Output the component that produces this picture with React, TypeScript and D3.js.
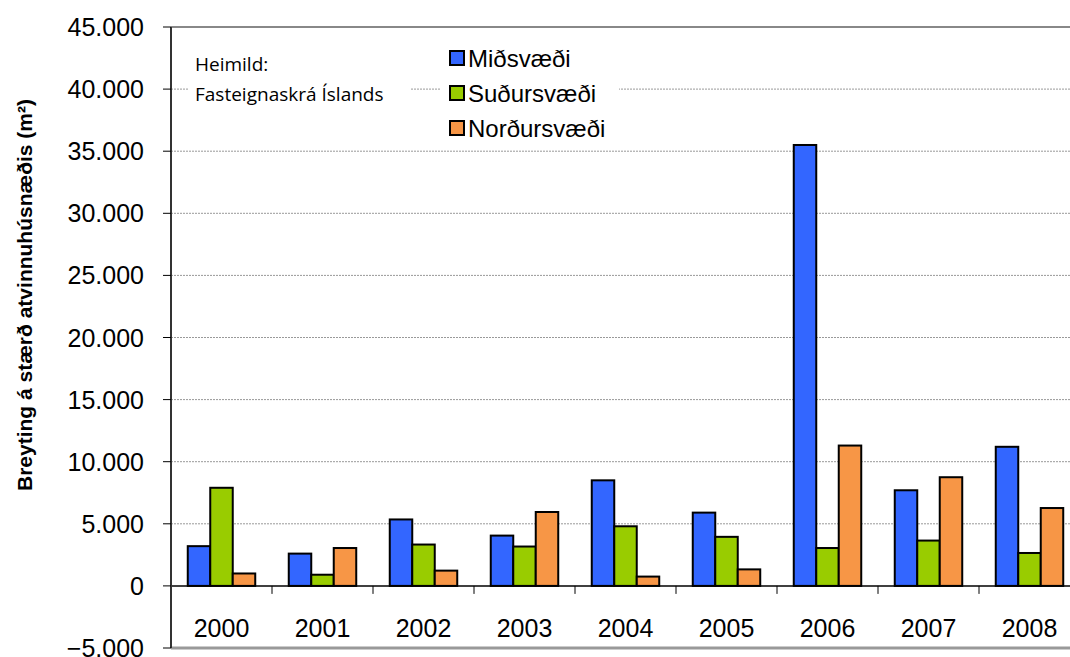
import * as d3 from 'd3';

const years = ['2000', '2001', '2002', '2003', '2004', '2005', '2006', '2007', '2008'];
const seriesNames = ['Miðsvæði', 'Suðursvæði', 'Norðursvæði'];
const midsvaedi = [3200, 2600, 5350, 4050, 8500, 5900, 35500, 7700, 11200];
const sudursvaedi = [7900, 900, 3330, 3170, 4800, 3950, 3050, 3650, 2650];
const nordursvaedi = [1000, 3050, 1230, 5950, 750, 1330, 11300, 8750, 6270];
const yTicks = [-5000, 0, 5000, 10000, 15000, 20000, 25000, 30000, 35000, 40000, 45000];
const colors = ['#3366ff', '#99cc00', '#f79646'];

const W = 1070;
const H = 657;
const left = 171;
const right = 1080;
const top = 27;
const bottom = 648;

const fmt = (v: number) => (v === 0 ? '0' : d3.format(',')(v).replace(/,/g, '.'));

export default function App() {
  const x = d3.scaleBand().domain(years).range([left, right]);
  const x1 = d3.scaleBand().domain(seriesNames).range([0, x.bandwidth()]).paddingInner(0).paddingOuter(0.745);
  const y = d3.scaleLinear().domain([-5000, 45000]).range([bottom, top]);
  const series = [midsvaedi, sudursvaedi, nordursvaedi];
  const font = 'Arial, "Liberation Sans", sans-serif';
  const noteFont = '"Open Sans", sans-serif';

  return (
    <svg width={W} height={H} style={{ position: 'absolute', left: 0, top: 0 }}>
      <rect width={W} height={H} fill="#fff" />
      {/* gridlines */}
      {yTicks.filter((t) => t > 0).map((t) => (
        <line key={t} x1={left} x2={right} y1={y(t)} y2={y(t)} stroke="#999" strokeWidth={1} strokeDasharray="2,1" />
      ))}
      <line x1={left} x2={right} y1={top} y2={top} stroke="#888" strokeWidth={2} />
      <line x1={left} x2={right} y1={bottom} y2={bottom} stroke="#999" strokeWidth={3} />
      {/* source note */}
      <rect x={188} y={42} width={223} height={70} fill="#fff" />
      <text x={195} y={71} fontFamily={noteFont} fontSize={19} fill="#000">Heimild:</text>
      <text x={195} y={101} fontFamily={noteFont} fontSize={19} fill="#000">Fasteignaskrá Íslands</text>
      {/* legend */}
      <rect x={440} y={32} width={179} height={114} fill="#fff" />
      {seriesNames.map((s, i) => (
        <g key={s} transform={`translate(450,${58 + i * 35})`}>
          <rect x={0} y={-7} width={14} height={14} fill={colors[i]} stroke="#000" strokeWidth={2} />
          <text x={18} y={9} fontFamily={font} fontSize={24} fill="#000">{s}</text>
        </g>
      ))}
      {/* bars */}
      {years.map((yr, i) => (
        <g key={yr} transform={`translate(${x(yr)},0)`}>
          {series.map((vals, j) => {
            const v = vals[i];
            return (
              <rect
                key={j}
                x={x1(seriesNames[j])}
                y={y(Math.max(0, v))}
                width={x1.bandwidth()}
                height={Math.abs(y(v) - y(0))}
                fill={colors[j]}
                stroke="#000"
                strokeWidth={2}
              />
            );
          })}
        </g>
      ))}
      {/* zero line + category ticks */}
      <line x1={left} x2={right} y1={y(0)} y2={y(0)} stroke="#000" strokeWidth={1.5} />
      {years.map((yr) => (
        <line key={yr} x1={x(yr)! + x.bandwidth()} x2={x(yr)! + x.bandwidth()} y1={y(0)} y2={y(0) + 8} stroke="#000" strokeWidth={1} />
      ))}
      {years.map((yr) => (
        <text key={yr} x={x(yr)! + x.bandwidth() / 2} y={y(0) + 51} textAnchor="middle" fontFamily={font} fontSize={25} fill="#000">{yr}</text>
      ))}
      {/* y axis */}
      <line x1={left} x2={left} y1={top} y2={bottom} stroke="#333" strokeWidth={2} />
      {yTicks.map((t) => (
        <g key={t}>
          <line x1={left - 8} x2={left} y1={y(t)} y2={y(t)} stroke="#000" strokeWidth={1} />
          <text x={144} y={y(t) + 9} textAnchor="end" fontFamily={font} fontSize={25} fill="#000">{fmt(t)}</text>
        </g>
      ))}
      <text
        transform={`translate(32,295) rotate(-90)`}
        textAnchor="middle"
        fontFamily={font}
        fontSize={21}
        fontWeight="bold"
        fill="#000"
      >
        Breyting á stærð atvinnuhúsnæðis (m²)
      </text>
    </svg>
  );
}
